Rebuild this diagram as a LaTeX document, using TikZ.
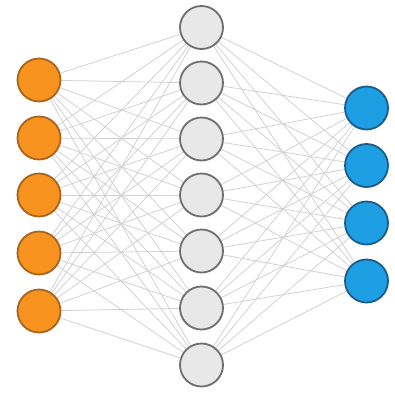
\documentclass[tikz,border=0pt]{standalone}
\usetikzlibrary{backgrounds}
\definecolor{orfill}{HTML}{F7931E}
\definecolor{ordraw}{HTML}{A8651E}
\definecolor{grfill}{HTML}{E8E8E8}
\definecolor{grdraw}{HTML}{6E6E6E}
\definecolor{blfill}{HTML}{1E9FE3}
\definecolor{bldraw}{HTML}{1B5C8C}
\definecolor{edgec}{HTML}{D0D0D0}
\begin{document}
\begin{tikzpicture}[x=1pt,y=-1pt,
  neuron/.style={circle,minimum size=43pt,inner sep=0pt,line width=1.8pt},
  inp/.style={neuron,fill=orfill,draw=ordraw},
  hid/.style={neuron,fill=grfill,draw=grdraw},
  outp/.style={neuron,fill=blfill,draw=bldraw},
  conn/.style={draw=edgec,line width=0.75pt}]
\useasboundingbox (0,0) rectangle (395,394);
\foreach \i/\y in {1/80,2/138,3/195,4/253,5/311}
  \node[inp] (a\i) at (39,\y) {};
\foreach \i/\y in {1/27.5,2/83,3/139,4/195,5/251,6/308,7/365}
  \node[hid] (h\i) at (201.5,\y) {};
\foreach \i/\y in {1/108,2/165.5,3/223,4/281}
  \node[outp] (o\i) at (366.5,\y) {};
\begin{scope}[on background layer]
  \fill[white] (0,0) rectangle (395,394);
  \foreach \i in {1,...,5}
    \foreach \j in {1,...,7}
      \draw[conn] (a\i) -- (h\j);
  \foreach \j in {1,...,7}
    \foreach \k in {1,...,4}
      \draw[conn] (h\j) -- (o\k);
\end{scope}
\end{tikzpicture}
\end{document}
